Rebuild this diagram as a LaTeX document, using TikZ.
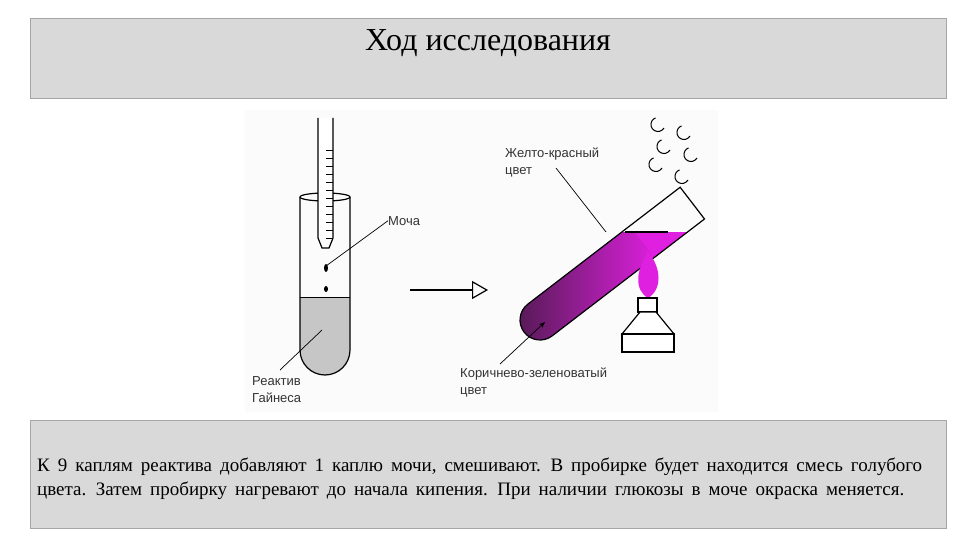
\documentclass[tikz,border=0pt]{standalone}
\usepackage{fontspec}
\setmainfont{Liberation Serif}
\newfontfamily\lab{Liberation Sans}
\usetikzlibrary{arrows.meta}
\definecolor{panel}{HTML}{D9D9D9}
\definecolor{mag}{HTML}{E020E0}
\definecolor{dpur}{HTML}{4A1A4A}
\newcommand\widesp{\spaceskip=8pt plus 1pt\relax}
\tikzset{panelbox/.style={draw=gray!70,fill=panel},
 lbl/.style={font=\lab\fontsize{13}{17}\selectfont,text=black!80,align=left,anchor=north west,inner sep=0},
 ln/.style={draw=black,line width=0.7pt},
 glass/.style={draw=black,line width=1.2pt}}
\begin{document}
\begin{tikzpicture}[x=1pt,y=-1pt]
\useasboundingbox (0,0) rectangle (960,540);
\node[panelbox,minimum width=916,minimum height=80,anchor=north west] (title) at (30,18) {};
\node[font=\fontsize{32}{34}\selectfont,anchor=center] (tt) at (488,43) {Ход исследования};
\node[panelbox,minimum width=916,minimum height=108,anchor=north west] (body) at (30,420) {};
\node[font=\fontsize{19}{24}\selectfont,align=left,anchor=west,inner sep=0] (bt) at (37,479)
{\widesp К 9 каплям реактива добавляют 1 каплю мочи, смешивают. В пробирке будет находится смесь голубого\\\widesp цвета. Затем пробирку нагревают до начала кипения. При наличии глюкозы в моче окраска меняется.};
% picture background
\fill[white!97!gray] (245,110) rectangle (718,412);
% left tube
\fill[gray!45] (300,297) -- (350,297) -- (350,350) arc[start angle=0,end angle=180,radius=25] -- cycle;
\draw[glass] (300,197) -- (300,350) arc[start angle=180,end angle=0,radius=25] -- (350,197);
\draw[glass] (325,197) ellipse[x radius=25,y radius=4];
\draw[line width=0.6pt] (300,297) -- (350,297);
% pipette
\fill[white] (318,118) rectangle (333,238);
\draw[glass] (318,118) -- (318,238) -- (322,248) -- (329,248) -- (333,238) -- (333,118);
\foreach \y in {150,158,...,238} \draw[line width=0.4pt] (326,\y) -- (333,\y);
\fill (326,268) ellipse[x radius=2,y radius=4];
\fill (326,289) ellipse[x radius=2,y radius=3];
\node[lbl] (mocha) at (388,216) {Моча};
\coordinate (m1) at (326,266);
\draw[ln] (mocha.west) -- (m1);
\node[lbl] (reak) at (252,376) {Реактив\\Гайнеса};
\coordinate (r1) at (322,330);
\coordinate (r0) at (280,370);
\draw[ln] (r0) -- (r1);
% hollow arrow
\coordinate (a1) at (410,290);
\coordinate (a2) at (488,290);
\draw[line width=1.2pt,-{Triangle[open,length=16pt,width=18pt]}] (a1) -- (a2);
% right tube
\begin{scope}
\clip (400,232) rectangle (720,420);
\begin{scope}[shift={(540,320)},rotate=37.5]
\clip (0,-20) -- (192,-20) -- (192,20) -- (0,20) arc[start angle=90,end angle=270,radius=20] -- cycle;
\shade[left color=dpur,right color=mag] (-25,-25) rectangle (130,25);
\fill[mag] (129,-25) rectangle (200,25);
\end{scope}
\end{scope}
\draw[glass] (625,232) -- (668,232);
\begin{scope}[shift={(540,320)},rotate=37.5]
\draw[glass] (192,-20) -- (0,-20) arc[start angle=270,end angle=90,radius=20] -- (192,20) -- cycle;
\end{scope}
% burner
\fill[mag] (648,252) .. controls (662,268) and (662,290) .. (648,298) .. controls (634,290) and (636,270) .. (648,252);
\draw[glass,fill=white] (638,298) rectangle (657,312);
\draw[glass,fill=white] (640,312) -- (622,334) -- (674,334) -- (656,312) -- cycle;
\draw[glass,fill=white] (622,334) rectangle (674,352);
% steam
\foreach \x/\y in {664/128,690/136,670/150,697/158,662/168,688/180}
  \draw[line width=1pt] (\x,\y) arc[start angle=30,end angle=250,radius=7];
\node[lbl] (zh) at (505,148) {Желто-красный\\цвет};
\coordinate (z1) at (606,232);
\coordinate (z0) at (556,168);
\draw[ln] (z0) -- (z1);
\node[lbl] (kor) at (460,368) {Коричнево-зеленоватый\\цвет};
\coordinate (k1) at (545,322);
\coordinate (k0) at (500,364);
\draw[ln,-{Stealth[length=6pt]}] (k0) -- (k1);
\end{tikzpicture}
\end{document}
